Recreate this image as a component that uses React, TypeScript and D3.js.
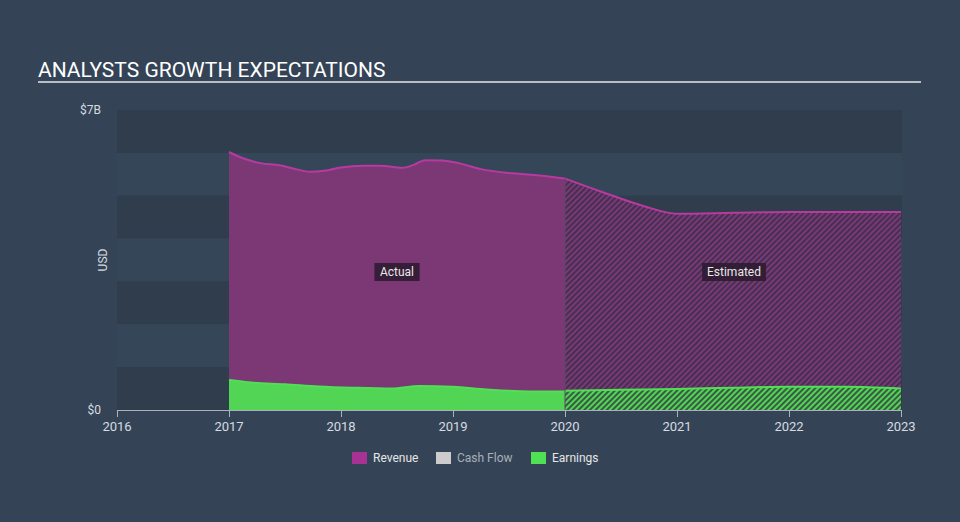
import React from "react";
import * as d3 from "d3";

const revenueActual: [number, number][] = [
  [2017.0, 6.02], [2017.12, 5.88], [2017.28, 5.76], [2017.45, 5.71], [2017.6, 5.62],
  [2017.72, 5.56], [2017.85, 5.58], [2018.0, 5.66], [2018.2, 5.7], [2018.35, 5.7],
  [2018.55, 5.65], [2018.65, 5.72], [2018.75, 5.83], [2018.9, 5.82], [2019.05, 5.76],
  [2019.25, 5.62], [2019.5, 5.53], [2019.75, 5.48], [2020.0, 5.4],
];
const revenueEstimated: [number, number][] = [
  [2020.0, 5.4], [2020.35, 5.07], [2020.7, 4.76], [2021.0, 4.58], [2021.5, 4.6],
  [2022.0, 4.62], [2022.5, 4.62], [2023.0, 4.62],
];
const earningsActual: [number, number][] = [
  [2017.0, 0.7], [2017.2, 0.64], [2017.5, 0.6], [2017.8, 0.55], [2018.1, 0.52],
  [2018.45, 0.5], [2018.7, 0.56], [2019.0, 0.54], [2019.3, 0.48], [2019.6, 0.44],
  [2020.0, 0.43],
];
const earningsEstimated: [number, number][] = [
  [2020.0, 0.45], [2020.5, 0.47], [2021.0, 0.49], [2021.5, 0.52], [2022.0, 0.54],
  [2022.5, 0.54], [2023.0, 0.5],
];
const yearTicks = [2016, 2017, 2018, 2019, 2020, 2021, 2022, 2023];
const yTickLabels: [number, string][] = [[0, "$0"], [7, "$7B"]];
const legendItems = [
  { name: "Revenue", color: "#a83294", text: "#e6e6e6" },
  { name: "Cash Flow", color: "#cccccc", text: "#a9b0b8" },
  { name: "Earnings", color: "#4fe053", text: "#e6e6e6" },
];

export default function App() {
  const W = 960, H = 522;
  const x = d3.scaleLinear().domain([2016, 2023]).range([117, 901]);
  const y = d3.scaleLinear().domain([0, 7]).range([410, 110]);
  const area = d3.area<[number, number]>().x(d => x(d[0])).y0(y(0)).y1(d => y(d[1])).curve(d3.curveMonotoneX);
  const line = d3.line<[number, number]>().x(d => x(d[0])).y(d => y(d[1])).curve(d3.curveMonotoneX);
  const bands = d3.range(7);
  const font = "Roboto, 'Open Sans', sans-serif";

  return (
    <svg width={W} height={H} style={{ position: "absolute", left: 0, top: 0, display: "block" }} fontFamily={font}>
      <defs>
        <pattern id="hatchRev" width="4" height="4" patternUnits="userSpaceOnUse" patternTransform="rotate(45)">
          <rect width="4" height="4" fill="#45304f" />
          <rect width="2" height="4" fill="#7b3878" />
        </pattern>
        <pattern id="hatchEarn" width="4" height="4" patternUnits="userSpaceOnUse" patternTransform="rotate(45)">
          <rect width="4" height="4" fill="#3a5a45" />
          <rect width="2" height="4" fill="#52d455" />
        </pattern>
      </defs>
      <rect width={W} height={H} fill="#344456" />
      <text x={38} y={77} fill="#ffffff" fontSize={21} fontWeight={400}>ANALYSTS GROWTH EXPECTATIONS</text>
      <rect x={38} y={81} width={883} height={2} fill="#b7bec6" />

      {bands.map(i => (
        <rect key={i} x={x(2016)} y={y(7 - i)} width={x(2023) - x(2016) + 1} height={y(6 - i) - y(7 - i)}
          fill={i % 2 === 0 ? "#2f3d4d" : "#354658"} />
      ))}

      <path d={area(revenueActual) || ""} fill="#7b3875" />
      <path d={area(revenueEstimated) || ""} fill="url(#hatchRev)" />
      <path d={area(earningsActual) || ""} fill="#52d455" />
      <path d={area(earningsEstimated) || ""} fill="url(#hatchEarn)" />
      <path d={line(revenueActual) || ""} fill="none" stroke="#b83aa0" strokeWidth={2} />
      <path d={line(revenueEstimated) || ""} fill="none" stroke="#b83aa0" strokeWidth={2} />
      <path d={line(earningsActual) || ""} fill="none" stroke="#4fe053" strokeWidth={2} />
      <path d={line(earningsEstimated) || ""} fill="none" stroke="#4fe053" strokeWidth={2} />

      <line x1={x(2020)} x2={x(2020)} y1={y(revenueActual[revenueActual.length - 1][1])} y2={y(0)} stroke="#5b4a66" strokeWidth={1} />

      {[{ t: "Actual", cx: 397 }, { t: "Estimated", cx: 734 }].map(l => {
        const w = l.t.length * 6.2 + 8;
        return (
          <g key={l.t}>
            <rect x={l.cx - w / 2} y={263} width={w} height={18} fill="#2a1a2e" fillOpacity={0.85} />
            <text x={l.cx} y={276} fill="#e8e8e8" fontSize={12} textAnchor="middle">{l.t}</text>
          </g>
        );
      })}

      {yTickLabels.map(([v, s]) => (
        <text key={s} x={101} y={y(v) + 4} fill="#d6dbe0" fontSize={12} textAnchor="end">{s}</text>
      ))}
      <text transform={`translate(107,260) rotate(-90)`} fill="#d6dbe0" fontSize={12} textAnchor="middle">USD</text>

      <line x1={x(2016)} x2={x(2023)} y1={410.5} y2={410.5} stroke="#a9b3bd" strokeWidth={1} />
      {yearTicks.map(t => (
        <g key={t}>
          <line x1={Math.round(x(t)) + 0.5} x2={Math.round(x(t)) + 0.5} y1={410} y2={417} stroke="#a9b3bd" strokeWidth={1} />
          <text x={x(t)} y={431} fill="#d6dbe0" fontSize={13} textAnchor="middle">{t}</text>
        </g>
      ))}

      {legendItems.map((it, i) => {
        const lx = [352, 436, 531][i];
        return (
          <g key={it.name}>
            <rect x={lx} y={452} width={15} height={12} fill={it.color} />
            <text x={lx + 21} y={462} fill={it.text} fontSize={12}>{it.name}</text>
          </g>
        );
      })}
    </svg>
  );
}
